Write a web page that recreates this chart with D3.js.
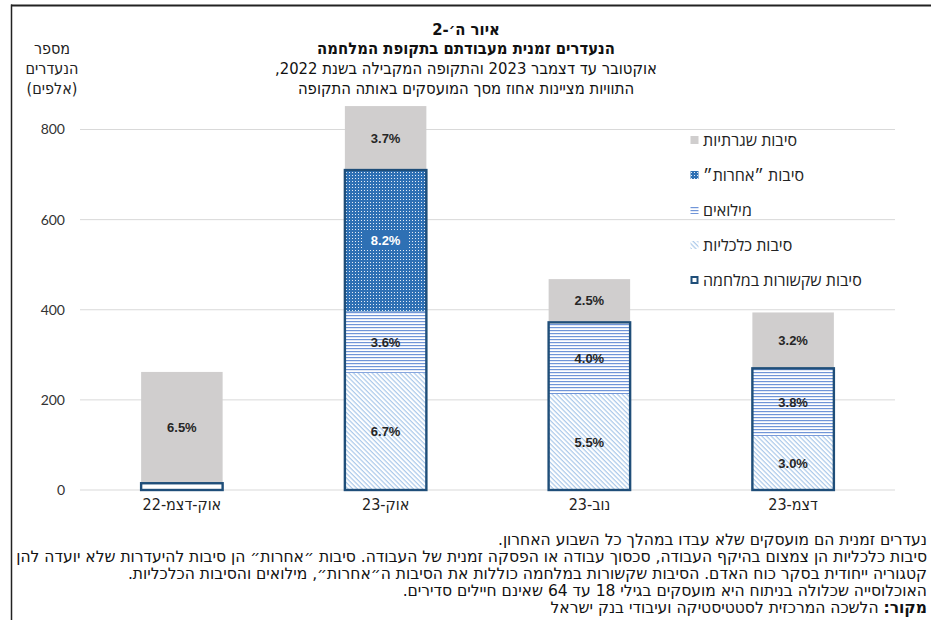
<!DOCTYPE html>
<html><head><meta charset="utf-8">
<script src="https://cdn.jsdelivr.net/npm/d3@7"></script>
<style>body{margin:0;background:#fff} svg{display:block}</style>
</head><body><svg id="c" width="931" height="620"></svg>
<script>
// ---------- data ----------
const categories = ["אוק-דצמ-22", "אוק-23", "נוב-23", "דצמ-23"];
const economic   = [0, 260, 213, 120];
const reserve    = [0, 136, 159, 150];
const other      = [0, 314, 0, 0];
const warRelated = [15, 710, 372, 270];
const routine    = [247, 142, 96, 124];
const economicLabels = [null, "6.7%", "5.5%", "3.0%"];
const reserveLabels  = [null, "3.6%", "4.0%", "3.8%"];
const otherLabels    = [null, "8.2%", null, null];
const routineLabels  = ["6.5%", "3.7%", "2.5%", "3.2%"];
const yTicks = [0, 200, 400, 600, 800];
const titleLines = ["איור ה׳-2", "הנעדרים זמנית מעבודתם בתקופת המלחמה",
  "אוקטובר עד דצמבר 2023 והתקופה המקבילה בשנת 2022,",
  "התוויות מציינות אחוז מסך המועסקים באותה התקופה"];
const yTitleLines = ["מספר", "הנעדרים", "(אלפים)"];
const legendNames = ["סיבות שגרתיות", "סיבות ״אחרות״", "מילואים", "סיבות כלכליות", "סיבות שקשורות במלחמה"];
const noteLines = [
  "נעדרים זמנית הם מועסקים שלא עבדו במהלך כל השבוע האחרון.",
  "סיבות כלכליות הן צמצום בהיקף העבודה, סכסוך עבודה או הפסקה זמנית של העבודה. סיבות ״אחרות״ הן סיבות להיעדרות שלא יועדה להן",
  "קטגוריה ייחודית בסקר כוח האדם. הסיבות שקשורות במלחמה כוללות את הסיבות ה״אחרות״, מילואים והסיבות הכלכליות.",
  "האוכלוסייה שכלולה בניתוח היא מועסקים בגילי 18 עד 64 שאינם חיילים סדירים."
];
const sourceLabel = "מקור:";
const sourceText = " הלשכה המרכזית לסטטיסטיקה ועיבודי בנק ישראל";

// ---------- setup ----------
const svg = d3.select("#c");
const narrow = "'Liberation Sans Narrow','DejaVu Sans Condensed','Liberation Sans',sans-serif";
const C = {gray: "#d0cece", dark: "#1f4e79", other: "#2e70b4", grid: "#d9d9d9", text: "#262626"};

const defs = svg.append("defs");
// economic: light diagonal "\" lines
const pE = defs.append("pattern").attr("id", "pEcon").attr("patternUnits", "userSpaceOnUse")
  .attr("width", 3.3).attr("height", 3.3).attr("patternTransform", "rotate(45)");
pE.append("rect").attr("width", 3.3).attr("height", 3.3).attr("fill", "#fff");
pE.append("rect").attr("width", 3.3).attr("height", 1.2).attr("fill", "#abc9ea");
// reserve: horizontal lines
const pR = defs.append("pattern").attr("id", "pRes").attr("patternUnits", "userSpaceOnUse")
  .attr("width", 6).attr("height", 3);
pR.append("rect").attr("width", 6).attr("height", 3).attr("fill", "#fff");
pR.append("rect").attr("width", 6).attr("height", 1.2).attr("fill", "#7095d8");
// other: blue with white dots
const pO = defs.append("pattern").attr("id", "pOther").attr("patternUnits", "userSpaceOnUse")
  .attr("width", 3).attr("height", 3);
pO.append("rect").attr("width", 3).attr("height", 3).attr("fill", C.other);
pO.append("rect").attr("x", 1).attr("y", 1).attr("width", 1).attr("height", 1).attr("fill", "#e3ecf7");

// ---------- frame ----------
svg.append("line").attr("x1", 11).attr("x2", 931).attr("y1", 5.5).attr("y2", 5.5)
  .attr("stroke", "#222").attr("stroke-width", 2.2);
svg.append("line").attr("x1", 11.5).attr("x2", 11.5).attr("y1", 4.5).attr("y2", 620)
  .attr("stroke", "#222").attr("stroke-width", 1.5);

// ---------- scales ----------
const x = d3.scaleBand().domain(categories).range([80, 895]).paddingInner(0.6).paddingOuter(0.3);
const y = d3.scaleLinear().domain([0, 800]).range([490, 129.5]);

// gridlines
svg.append("g").selectAll("line").data(yTicks).join("line")
  .attr("x1", 80).attr("x2", 895).attr("y1", d => y(d)).attr("y2", d => y(d))
  .attr("stroke", C.grid).attr("stroke-width", 1);

// y axis labels
const yAxis = d3.axisLeft(y).tickValues(yTicks).tickSize(0).tickPadding(0).tickFormat(d3.format("d"));
const gy = svg.append("g").attr("transform", "translate(65,0)").call(yAxis);
gy.select(".domain").remove();
gy.selectAll("text").attr("font-family", "Lato, 'Open Sans', sans-serif").attr("font-size", 14).attr("fill", "#333");

// x axis labels
const xAxis = d3.axisBottom(x).tickSize(0).tickPadding(0);
const gx = svg.append("g").attr("transform", "translate(0,499)").call(xAxis);
gx.select(".domain").remove();
gx.selectAll("text").attr("font-family", narrow).attr("font-size", 16).attr("fill", "#222")
  .attr("direction", "rtl").attr("dy", "0.71em");

// ---------- bars ----------
const table = categories.map((c, i) => ({cat: c, economic: economic[i], reserve: reserve[i], other: other[i]}));
const stack = d3.stack().keys(["economic", "reserve", "other"])(table);
const fills = {economic: "url(#pEcon)", reserve: "url(#pRes)", other: "url(#pOther)"};
const bars = svg.append("g");
stack.forEach(s => {
  bars.append("g").selectAll("rect").data(s.filter(d => d[1] > d[0])).join("rect")
    .attr("x", d => x(d.data.cat)).attr("width", x.bandwidth())
    .attr("y", d => y(d[1])).attr("height", d => y(d[0]) - y(d[1]))
    .attr("fill", fills[s.key]);
});
// routine on top of war-related
bars.append("g").selectAll("rect").data(categories).join("rect")
  .attr("x", d => x(d)).attr("width", x.bandwidth())
  .attr("y", (d, i) => y(warRelated[i] + routine[i]))
  .attr("height", (d, i) => y(warRelated[i]) - y(warRelated[i] + routine[i]))
  .attr("fill", C.gray);
// war-related outline
bars.append("g").selectAll("rect").data(categories).join("rect")
  .attr("x", d => x(d)).attr("width", x.bandwidth())
  .attr("y", (d, i) => y(warRelated[i]))
  .attr("height", (d, i) => y(0) - y(warRelated[i]))
  .attr("fill", "none").attr("stroke", C.dark).attr("stroke-width", 2.4);

// ---------- value labels ----------
const labG = svg.append("g");
function addLabels(labels, lo, hi, color, bg) {
  categories.forEach((c, i) => {
    if (!labels[i]) return;
    const cy = (y(lo[i]) + y(hi[i])) / 2;
    const cx = x(c) + x.bandwidth() / 2;
    if (bg) labG.append("rect").attr("x", cx - 22).attr("y", cy - 9).attr("width", 44).attr("height", 18).attr("fill", bg);
    labG.append("text").attr("x", cx).attr("y", cy).attr("dy", "0.36em").attr("text-anchor", "middle")
      .attr("font-family", "'Liberation Sans', Arial, sans-serif").attr("font-weight", "bold")
      .attr("font-size", 13).attr("fill", color).text(labels[i]);
  });
}
const zeros = categories.map(() => 0);
const econTop = economic.map(v => v);
const resTop = economic.map((v, i) => v + reserve[i]);
const othTop = resTop.map((v, i) => v + other[i]);
const routTop = warRelated.map((v, i) => v + routine[i]);
addLabels(economicLabels, zeros, econTop, C.text);
addLabels(reserveLabels, econTop, resTop, C.text);
addLabels(otherLabels, resTop, othTop, "#fff", C.other);
addLabels(routineLabels, warRelated, routTop, C.text);

// ---------- legend ----------
const legY = d3.scalePoint().domain(legendNames).range([140, 280]);
const lg = svg.append("g");
legendNames.forEach((n, i) => {
  const yy = legY(n);
  const m = lg.append("rect").attr("x", 690.5).attr("y", yy - 4).attr("width", 8).attr("height", 8);
  if (i === 0) m.attr("fill", C.gray);
  if (i === 1) m.attr("fill", "url(#pOther)");
  if (i === 2) m.attr("fill", "url(#pRes)");
  if (i === 3) m.attr("fill", "url(#pEcon)");
  if (i === 4) m.attr("x", 691.5).attr("y", yy - 3).attr("width", 6).attr("height", 6)
    .attr("fill", "#fff").attr("stroke", C.dark).attr("stroke-width", 2);
  lg.append("text").attr("x", 703).attr("y", yy).attr("dy", "0.35em")
    .attr("direction", "rtl").attr("text-anchor", "end")
    .attr("font-family", "'Open Sans','Liberation Sans',sans-serif").attr("font-size", 16)
    .attr("fill", "#222").text(n);
});

// ---------- titles ----------
const tg = svg.append("g");
titleLines.forEach((t, i) => {
  tg.append("text").attr("x", 466).attr("y", 29 + i * 19.7).attr("dy", "0.35em")
    .attr("text-anchor", "middle").attr("direction", "rtl")
    .attr("font-family", narrow).attr("font-size", 16.5)
    .attr("font-weight", i < 2 ? "bold" : "normal").attr("fill", "#111").text(t);
});
yTitleLines.forEach((t, i) => {
  svg.append("text").attr("x", 52).attr("y", 48 + i * 20).attr("dy", "0.35em")
    .attr("text-anchor", "middle").attr("direction", "rtl")
    .attr("font-family", narrow).attr("font-size", 16).attr("fill", "#222").text(t);
});

// ---------- notes ----------
const ng = svg.append("g");
const noteNodes = [];
const noteY0 = 539, noteStep = 17;
noteLines.forEach((t, i) => {
  noteNodes.push(ng.append("text").attr("y", noteY0 + i * noteStep).attr("dy", "0.35em")
    .attr("direction", "rtl").attr("text-anchor", "start")
    .attr("font-family", narrow).attr("font-size", 16).attr("fill", "#111").text(t));
});
const src = ng.append("text").attr("y", noteY0 + 4 * noteStep).attr("dy", "0.35em")
  .attr("direction", "rtl").attr("text-anchor", "start")
  .attr("font-family", narrow).attr("font-size", 16).attr("fill", "#111");
src.append("tspan").attr("font-weight", "bold").text(sourceLabel);
src.append("tspan").text(sourceText);
noteNodes.push(src);
// condense horizontally so the longest line spans the page width
const w2 = noteNodes[1].node().getComputedTextLength();
const sx = Math.max(0.75, Math.min(1.3, 912 / w2));
noteNodes.forEach(n => {
  const yy = +n.attr("y");
  n.attr("x", 0).attr("y", 0).attr("transform", `translate(927,${yy}) scale(${sx},1)`);
});
</script></body></html>
